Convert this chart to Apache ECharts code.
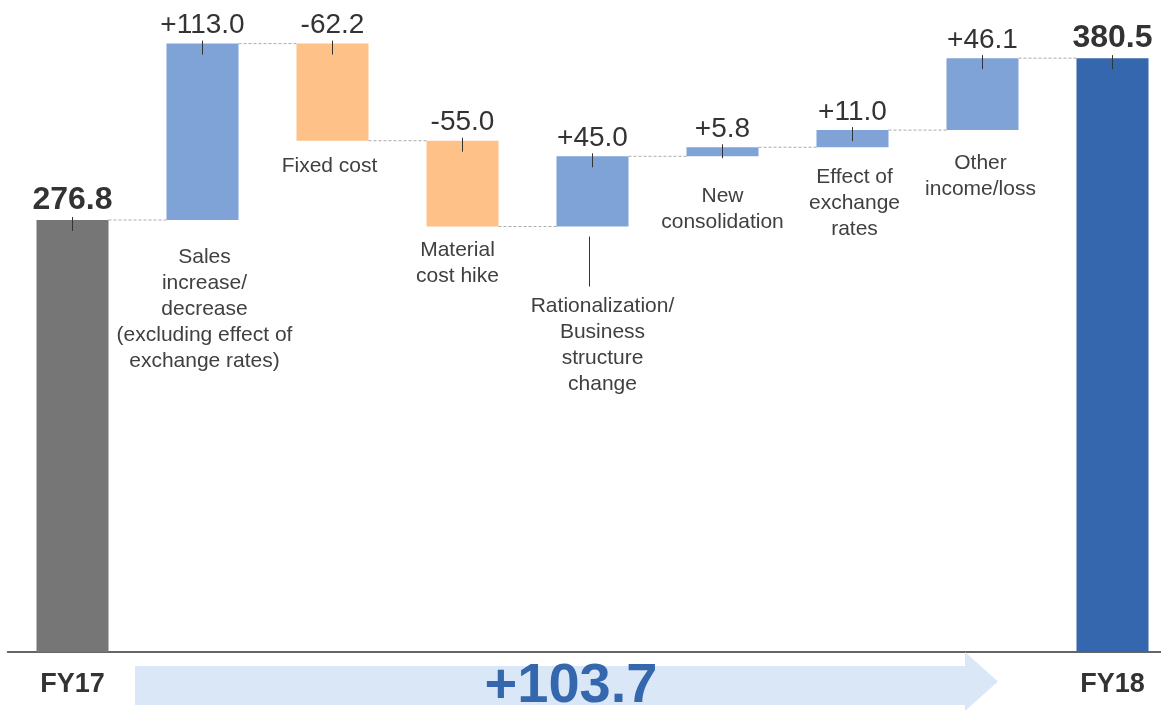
<!DOCTYPE html>
<html>
<head>
<meta charset="utf-8">
<script src="https://cdn.jsdelivr.net/npm/echarts@6/dist/echarts.min.js"></script>
<style>
html,body{margin:0;padding:0;background:#fff;}
#chart{width:1161px;height:711px;}
</style>
</head>
<body>
<div id="chart"></div>
<script>
// ---- data ----
const categories = [
  'FY17',
  'Sales\nincrease/\ndecrease\n(excluding effect of\nexchange rates)',
  'Fixed cost',
  'Material\ncost hike',
  'Rationalization/\nBusiness\nstructure\nchange',
  'New\nconsolidation',
  'Effect of\nexchange\nrates',
  'Other\nincome/loss',
  'FY18'
];
const startValue = 276.8;
const changes = [113.0, -62.2, -55.0, 45.0, 5.8, 11.0, 46.1];
const endValue = 380.5;

// ---- layout / style config ----
const nameLabelLayout = [null, [2, 37], [-3, 26], [-5, 24], [10, 80], [0, 40], [2, 30], [-2, 33], null]; // [dx, first-line center below bar bottom]
const leaderLines = {4: [-3, 10, 60]}; // index: [dx, startBelow, endBelow]
const colors = {total0: '#767676', up: '#7FA3D7', down: '#FEC188', total1: '#3467AD'};
const GRID_LEFT = 7.5, GRID_RIGHT = 0, SLOT = 130, CHART_W = 1161;

// ---- build waterfall rows ----
const rows = [];
rows.push([0, 0, startValue, startValue, 'total0', startValue.toFixed(1)]);
let run = startValue;
changes.forEach((c, k) => {
  const next = +(run + c).toFixed(1);
  const lo = Math.min(run, next), hi = Math.max(run, next);
  rows.push([k + 1, lo, hi, next, c >= 0 ? 'up' : 'down', (c >= 0 ? '+' : '-') + Math.abs(c).toFixed(1)]);
  run = next;
});
rows.push([categories.length - 1, 0, endValue, endValue, 'total1', endValue.toFixed(1)]);
const totalChange = endValue - startValue;

const chart = echarts.init(document.getElementById('chart'));
const FONT = '"Liberation Sans", Arial, sans-serif';

function renderItem(params, api) {
  const i = api.value(0);
  const lo = api.value(1), hi = api.value(2), end = api.value(3);
  const row = rows[params.dataIndex];
  const kind = row[4];
  const pTop = api.coord([i, hi]);
  const pBot = api.coord([i, lo]);
  const bw = api.size([1, 0])[0] * 0.554;
  const cx = pTop[0];
  const children = [];
  children.push({
    type: 'rect',
    shape: {x: cx - bw / 2, y: pTop[1], width: bw, height: pBot[1] - pTop[1]},
    style: {fill: colors[kind]}
  });
  children.push({
    type: 'line',
    shape: {x1: cx, y1: pTop[1] - 3, x2: cx, y2: pTop[1] + 11},
    style: {stroke: '#333', lineWidth: 1}
  });
  const isTotal = kind === 'total0' || kind === 'total1';
  children.push({
    type: 'text',
    style: {
      text: row[5], x: cx, y: pTop[1] - 4,
      align: 'center', verticalAlign: 'bottom',
      fill: '#333',
      fontSize: isTotal ? 32 : 28, fontWeight: isTotal ? 'bold' : 'normal',
      fontFamily: FONT
    }
  });
  if (params.dataIndex < rows.length - 1) {
    const pe = api.coord([i, end]);
    const pn = api.coord([i + 1, end]);
    children.push({
      type: 'line',
      shape: {x1: cx + bw / 2, y1: pe[1], x2: pn[0] - bw / 2, y2: pe[1]},
      style: {stroke: '#aaaaaa', lineWidth: 1, lineDash: [3, 2]}
    });
  }
  const nl = nameLabelLayout[params.dataIndex];
  if (nl) {
    children.push({
      type: 'text',
      style: {
        text: categories[params.dataIndex], x: cx + nl[0], y: pBot[1] + nl[1] - 13,
        align: 'center', verticalAlign: 'top', lineHeight: 26,
        fill: '#404040', fontSize: 21, fontFamily: FONT
      }
    });
  }
  const ll = leaderLines[params.dataIndex];
  if (ll) {
    children.push({
      type: 'line',
      shape: {x1: cx + ll[0], y1: pBot[1] + ll[1], x2: cx + ll[0], y2: pBot[1] + ll[2]},
      style: {stroke: '#333', lineWidth: 1}
    });
  }
  return {type: 'group', children};
}

const xMin = -0.5;
const xMax = xMin + (CHART_W - GRID_LEFT - GRID_RIGHT) / SLOT;

const option = {
  animation: false,
  backgroundColor: '#fff',
  grid: {left: GRID_LEFT, right: GRID_RIGHT, top: 27.7, bottom: 59, containLabel: false},
  xAxis: {
    type: 'value',
    min: xMin, max: xMax,
    axisLine: {show: true, onZero: false, lineStyle: {color: '#333', width: 1.5}},
    axisTick: {show: false},
    axisLabel: {
      show: true, margin: 19,
      customValues: [0, categories.length - 1],
      formatter: (v) => categories[Math.round(v)],
      color: '#333', fontSize: 27, fontWeight: 'bold', fontFamily: FONT
    },
    splitLine: {show: false}
  },
  yAxis: {type: 'value', min: 0, max: 400, show: false, splitLine: {show: false}},
  graphic: [
    {
      type: 'polygon', z: 1,
      shape: {points: [[135, 666], [965, 666], [965, 652], [998, 681.5], [965, 711], [965, 705], [135, 705]]},
      style: {fill: '#DAE7F7'}
    },
    {
      type: 'text', z: 2,
      style: {
        text: '+' + totalChange.toFixed(1), x: 571, y: 687,
        align: 'center', verticalAlign: 'middle',
        fill: '#3467AD', fontSize: 56, fontWeight: 'bold', fontFamily: FONT
      }
    }
  ],
  series: [{
    type: 'custom',
    renderItem: renderItem,
    encode: {x: 0, y: [1, 2]},
    data: rows.map(r => [r[0], r[1], r[2], r[3]]),
    clip: false
  }]
};
chart.setOption(option);
</script>
</body>
</html>
